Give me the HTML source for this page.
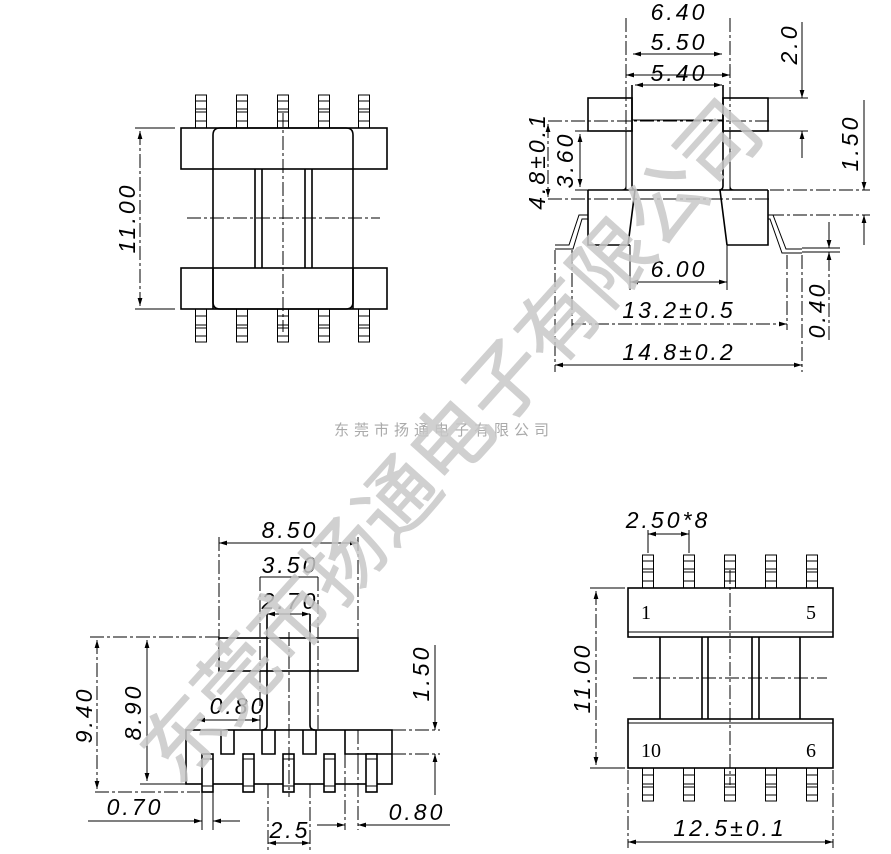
<!DOCTYPE html>
<html><head><meta charset="utf-8"><style>
html,body{margin:0;padding:0;background:#fff;}
svg{display:block;}
.l{stroke:#000;stroke-width:1.6;fill:none;}
.t{stroke:#000;stroke-width:1;fill:none;}
.c{stroke:#000;stroke-width:1;fill:none;stroke-dasharray:14 3 3 3;}
.d{font-family:"Liberation Sans",sans-serif;font-style:italic;font-size:23px;letter-spacing:3px;fill:#000;text-anchor:middle;}
.n{font-family:"Liberation Serif",serif;font-size:20px;fill:#000;}
</style></head><body>
<svg width="891" height="854" viewBox="0 0 891 854" xmlns="http://www.w3.org/2000/svg">
<defs>
<marker id="a" viewBox="0 0 10 10" refX="10" refY="5" markerWidth="10" markerHeight="8" orient="auto-start-reverse" markerUnits="userSpaceOnUse"><path d="M0,2 L10,5 L0,8 z" fill="#000"/></marker>
<g id="pin"><rect x="-5.5" y="0" width="11" height="33" class="t"/><path d="M-5.5 6H5.5M-5.5 14H5.5M-5.5 17H5.5M-5.5 26H5.5" class="t"/></g>
<g id="pinb"><rect x="-5.5" y="0" width="11" height="33" class="t"/><path d="M-5.5 7H5.5M-5.5 16H5.5M-5.5 19H5.5M-5.5 27H5.5" class="t"/></g>
</defs>

<!-- VIEW 1 -->
<g>
<use href="#pin" x="201" y="95"/><use href="#pin" x="242" y="95"/><use href="#pin" x="283" y="95"/><use href="#pin" x="324" y="95"/><use href="#pin" x="364" y="95"/>
<use href="#pinb" x="201" y="309"/><use href="#pinb" x="242" y="309"/><use href="#pinb" x="283" y="309"/><use href="#pinb" x="324" y="309"/><use href="#pinb" x="364" y="309"/>
<rect x="181" y="128" width="206" height="41" class="l" fill="#fff"/>
<rect x="181" y="268" width="206" height="41" class="l"/>
<path d="M213 309V135Q213 128 220 128H346Q353 128 353 135V309" class="l"/>
<path d="M213 268V302Q213 309 220 309H346Q353 309 353 302V268" class="l"/>
<path d="M255 169V268M262 169V268M305 169V268M312 169V268" class="l"/>
<path d="M283 113V332" class="c"/><path d="M187 218H380" class="c"/>
<path d="M135 128H175M135 309H175" class="t"/>
<path d="M140 131V306" class="c" marker-start="url(#a)" marker-end="url(#a)"/>
<text class="d" transform="translate(135 218) rotate(-90)">11.00</text>
</g>

<!-- VIEW 2 -->
<g>
<rect x="588" y="98" width="44" height="33" class="l"/>
<rect x="723" y="98" width="45" height="33" class="l"/>
<path d="M632 85V186Q632 190 636 190M723 85V186Q723 190 719 190" class="l"/>
<path d="M626 131V186Q626 190 622 190M730 131V186Q730 190 734 190" class="t"/>
<path d="M632 120H723" class="t"/>
<path d="M548 121H770M548 199H770" class="c"/>
<path d="M588 190H768M588 190V245H630M768 190V245H727M635 190L628 245M720 190L727 245" class="l"/>
<path d="M588 215H579L569 245H555M588 219H582L573 249H555" class="t"/>
<path d="M768 215H773L786 249H802M768 219H770L782 253H802" class="t"/>
<path d="M626 18V190M730 18V190" class="c"/>
<path d="M626 75H730" class="t" marker-start="url(#a)" marker-end="url(#a)"/>
<path d="M633 54H722" class="t" marker-start="url(#a)" marker-end="url(#a)"/>
<path d="M635 85H722" class="t" marker-start="url(#a)" marker-end="url(#a)"/>
<text class="d" x="679" y="20">6.40</text>
<text class="d" x="679" y="50">5.50</text>
<text class="d" x="679" y="81">5.40</text>
<path d="M630 245V290M727 245V290" class="t"/>
<path d="M630 282H727" class="t" marker-start="url(#a)" marker-end="url(#a)"/>
<text class="d" x="679" y="277">6.00</text>
<path d="M572 250V330M787 255V330M555 250V372M802 255V372" class="c"/>
<path d="M572 324H787" class="c" marker-end="url(#a)"/>
<text class="d" x="679" y="318">13.2±0.5</text>
<path d="M555 365H802" class="t" marker-start="url(#a)" marker-end="url(#a)"/>
<text class="d" x="679" y="360">14.8±0.2</text>
<path d="M768 98H808M768 131H808" class="t"/>
<path d="M802 22V98" class="t" marker-end="url(#a)"/><path d="M802 158V131" class="t" marker-end="url(#a)"/>
<text class="d" transform="translate(797 44) rotate(-90)">2.0</text>
<path d="M770 190H870M770 215H870" class="c"/>
<path d="M864 100V190" class="t" marker-end="url(#a)"/><path d="M864 245V215" class="t" marker-end="url(#a)"/>
<text class="d" transform="translate(858 143) rotate(-90)">1.50</text>
<path d="M802 248H840M802 252H840" class="t"/>
<path d="M829 222V248" class="t" marker-end="url(#a)"/><path d="M829 340V252" class="c" marker-end="url(#a)"/>
<text class="d" transform="translate(825 310) rotate(-90)">0.40</text>
<path d="M548 124V197" class="c" marker-start="url(#a)" marker-end="url(#a)"/>
<path d="M580 134V187" class="t" marker-start="url(#a)" marker-end="url(#a)"/>
<path d="M575 131H588M575 190H588" class="t"/>
<text class="d" transform="translate(545 161) rotate(-90)">4.8±0.1</text>
<text class="d" transform="translate(573 160) rotate(-90)">3.60</text>
</g>

<!-- VIEW 3 -->
<g>
<rect x="219" y="638" width="139" height="33" class="l"/>
<path d="M267 614V725Q267 730 262 730M310 614V725Q310 730 315 730" class="l"/>
<path d="M260 577V730M318 577V730" class="c"/>
<path d="M260 577H318" class="t"/>
<path d="M219 537V638M358 537V638" class="c"/>
<path d="M219 543H358" class="t" marker-start="url(#a)" marker-end="url(#a)"/>
<text class="d" x="290" y="538">8.50</text>
<text class="d" x="290" y="573">3.50</text>
<path d="M267 614H310" class="t" marker-start="url(#a)" marker-end="url(#a)"/>
<text class="d" x="290" y="609">2.70</text>
<rect x="186" y="730" width="206" height="54" class="l"/>
<path d="M221 730V754H234V730M262 730V754H275V730M303 730V754H316V730M345 730V754H392" class="l" fill="#fff"/>
<path d="M358 730V760" class="c"/>
<g class="l">
<rect x="202" y="754" width="11" height="38" fill="#fff"/><rect x="243" y="754" width="11" height="38" fill="#fff"/><rect x="283" y="754" width="11" height="38" fill="#fff"/><rect x="324" y="754" width="11" height="38" fill="#fff"/><rect x="366" y="754" width="11" height="38" fill="#fff"/>
</g>
<path d="M202 759H213M202 786H213M243 759H254M243 786H254M283 759H294M283 786H294M324 759H335M324 786H335M366 759H377M366 786H377" class="t"/>
<path d="M289 632V797" class="c"/>
<path d="M90 637H219M95 792H200" class="c"/>
<path d="M97 640V789" class="c" marker-start="url(#a)" marker-end="url(#a)"/>
<path d="M140 784H186" class="t"/>
<path d="M147 640V781" class="t" marker-start="url(#a)" marker-end="url(#a)"/>
<text class="d" transform="translate(92 715) rotate(-90)">9.40</text>
<text class="d" transform="translate(141 712) rotate(-90)">8.90</text>
<path d="M392 730H440M392 754H440" class="c"/>
<path d="M435 645V730" class="t" marker-end="url(#a)"/><path d="M435 795V754" class="t" marker-end="url(#a)"/>
<text class="d" transform="translate(429 673) rotate(-90)">1.50</text>
<path d="M197 720H260" class="t" marker-start="url(#a)" marker-end="url(#a)"/>
<text class="d" x="238" y="714">0.80</text>
<path d="M202 792V830M213 792V830" class="t"/>
<path d="M88 821H202" class="t" marker-end="url(#a)"/><path d="M240 821H213" class="t" marker-end="url(#a)"/>
<text class="d" x="135" y="815">0.70</text>
<path d="M268 784V850M310 784V850" class="c"/>
<path d="M268 843H310" class="t" marker-start="url(#a)" marker-end="url(#a)"/>
<text class="d" x="290" y="838">2.5</text>
<path d="M345 754V830M358 760V830" class="c"/>
<path d="M317 825H345" class="t" marker-end="url(#a)"/><path d="M450 825H358" class="t" marker-end="url(#a)"/>
<text class="d" x="417" y="820">0.80</text>
</g>

<!-- VIEW 4 -->
<g>
<use href="#pin" x="648" y="555"/><use href="#pin" x="689" y="555"/><use href="#pin" x="730" y="555"/><use href="#pin" x="771" y="555"/><use href="#pin" x="812" y="555"/>
<use href="#pinb" x="648" y="768"/><use href="#pinb" x="689" y="768"/><use href="#pinb" x="730" y="768"/><use href="#pinb" x="771" y="768"/><use href="#pinb" x="812" y="768"/>
<rect x="628" y="588" width="205" height="49" class="l" fill="#fff"/>
<path d="M628 632H833M628 723H833" class="t"/>
<rect x="628" y="719" width="205" height="49" class="l"/>
<path d="M660 637V719M800 637V719M702 637V719M708 637V719M752 637V719M759 637V719" class="l"/>
<path d="M730 570V785" class="c"/><path d="M633 678H827" class="c"/>
<text class="n" x="641" y="619">1</text><text class="n" x="806" y="619">5</text>
<text class="n" x="641" y="757">10</text><text class="n" x="806" y="757">6</text>
<path d="M648 530V553M689 530V553" class="t"/>
<path d="M648 534H689" class="t" marker-start="url(#a)" marker-end="url(#a)"/>
<text class="d" x="668" y="528">2.50*8</text>
<path d="M590 588H625M590 768H625" class="t"/>
<path d="M596 591V765" class="c" marker-start="url(#a)" marker-end="url(#a)"/>
<text class="d" transform="translate(590 678) rotate(-90)">11.00</text>
<path d="M628 770V848M833 770V848" class="c"/>
<path d="M628 842H833" class="t" marker-start="url(#a)" marker-end="url(#a)"/>
<text class="d" x="730" y="836">12.5±0.1</text>
</g>

<!-- watermark -->
<text x="444" y="435" text-anchor="middle" font-family="'Liberation Sans','Noto Sans CJK SC',sans-serif" font-size="15" letter-spacing="5" fill="#aaa">东莞市扬通电子有限公司</text>
<text transform="translate(447 437) rotate(-48)" text-anchor="middle" dominant-baseline="central" font-family="'Noto Sans CJK SC',sans-serif" font-size="80" fill="#c8c8c8" stroke="#c8c8c8" stroke-width="1.2" stroke-linejoin="round" opacity="0.85">东莞市扬通电子有限公司</text>
</svg>
</body></html>
